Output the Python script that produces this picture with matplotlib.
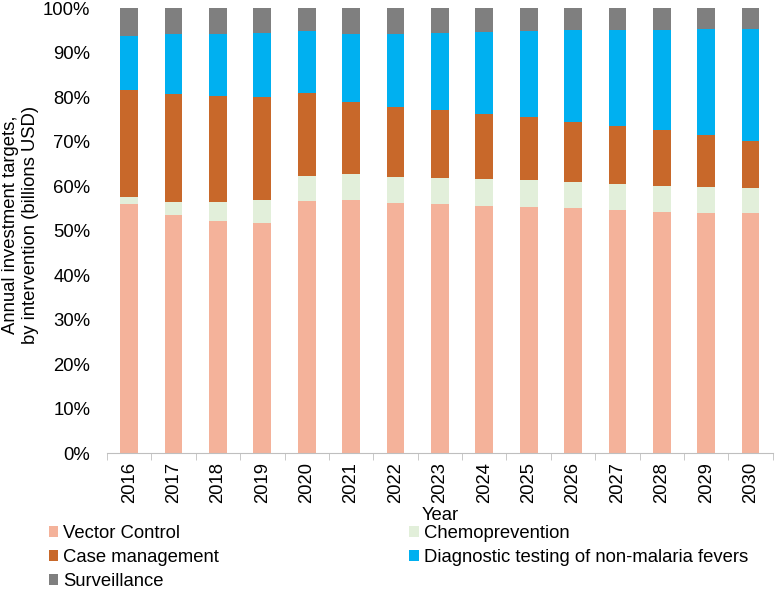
import numpy as np
import matplotlib
matplotlib.use('Agg')
import matplotlib.pyplot as plt
from matplotlib.patches import Patch

plt.rcParams['font.family'] = ['Liberation Sans', 'DejaVu Sans']

# ============================================
# Data: cumulative shares (%)
# ============================================
years = [2016, 2017, 2018, 2019, 2020, 2021, 2022, 2023,
         2024, 2025, 2026, 2027, 2028, 2029, 2030]

vector_control = [56.1, 53.7, 52.2, 51.7, 56.7, 57.0, 56.3, 56.0,
                  55.7, 55.5, 55.1, 54.7, 54.3, 54.1, 54.0]
top_chemo = [57.7, 56.6, 56.4, 56.9, 62.3, 62.7, 62.2, 61.8,
             61.6, 61.4, 60.9, 60.5, 60.2, 59.9, 59.7]
top_case = [81.6, 80.8, 80.3, 80.0, 80.9, 79.0, 77.9, 77.1,
            76.3, 75.6, 74.6, 73.6, 72.6, 71.5, 70.3]
top_diag = [93.9, 94.2, 94.3, 94.6, 95.0, 94.3, 94.2, 94.5,
            94.7, 95.0, 95.1, 95.2, 95.2, 95.3, 95.4]

labels = ['Vector Control', 'Chemoprevention', 'Case management',
          'Diagnostic testing of non-malaria fevers', 'Surveillance']
colors = ['#F4B29A', '#E2EFDA', '#C8682A', '#00B0F0', '#7F7F7F']

FS = 13.3

# segment heights
vc = np.array(vector_control)
chemo = np.array(top_chemo) - vc
case = np.array(top_case) - np.array(top_chemo)
diag = np.array(top_diag) - np.array(top_case)
surv = 100 - np.array(top_diag)
segments = [vc, chemo, case, diag, surv]

fig = plt.figure(figsize=(7.77, 5.89), dpi=100)
ax = fig.add_axes([0.1377, 0.2301, 0.8569, 0.7555])

x = np.arange(len(years))
bottom = np.zeros(len(years))
for seg, color in zip(segments, colors):
    ax.bar(x, seg, width=0.4, bottom=bottom, color=color, linewidth=0)
    bottom += seg

ax.set_xlim(-0.5, len(years) - 0.5)
ax.set_ylim(0, 100)
ax.set_yticks(np.arange(0, 101, 10))
ax.set_yticklabels([f'{v}%' for v in range(0, 101, 10)], fontsize=FS)
ax.tick_params(axis='y', length=0, pad=12)

ax.set_xticks(x)
ax.set_xticklabels([str(y) for y in years], rotation=90, fontsize=FS)
ax.set_xticks(np.arange(-0.5, len(years), 1), minor=True)
ax.tick_params(axis='x', which='major', length=0, pad=6)
ax.tick_params(axis='x', which='minor', length=5, color='#BFBFBF')

for side in ['top', 'right', 'left']:
    ax.spines[side].set_visible(False)
ax.spines['bottom'].set_color('#BFBFBF')

ax.set_xlabel('Year', fontsize=FS, labelpad=3)

fig.text(0.026, 0.618, 'Annual investment targets,\nby intervention (billions USD)',
         rotation=90, ha='center', va='center', fontsize=FS,
         multialignment='center')

# legend fills column-wise, so order entries accordingly
order = [0, 2, 4, 1, 3]
handles = [Patch(facecolor=colors[i], label=labels[i]) for i in order]
fig.legend(handles=handles, loc='lower left', bbox_to_anchor=(0.063, -0.002),
           ncol=2, frameon=False, fontsize=FS, handlelength=0.5,
           handleheight=0.5, handletextpad=0.27, columnspacing=10.3,
           labelspacing=0.38, borderaxespad=0.0, borderpad=0.0)

fig.savefig('out.png', dpi=100)
